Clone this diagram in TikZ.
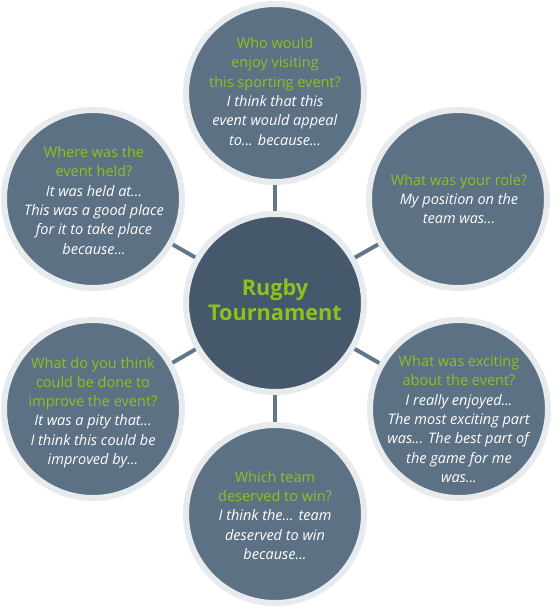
\documentclass[tikz,border=0pt]{standalone}
\usepackage{fontspec}
\setmainfont{Open Sans}
\usepackage{tikz}
\usetikzlibrary{positioning}
\definecolor{slate}{RGB}{93,113,133}
\definecolor{slatedark}{RGB}{70,88,107}
\definecolor{ringgray}{RGB}{232,235,238}
\definecolor{linkgray}{RGB}{98,118,138}
\definecolor{leafgreen}{RGB}{140,194,30}
\tikzset{
  topic/.style={
    circle,
    draw=ringgray,
    line width=6pt,
    fill=slate,
    minimum size=178pt,
    inner sep=0pt
  },
  hub/.style={
    topic,
    fill=slatedark
  },
  link/.style={
    draw=linkgray,
    line width=4pt
  },
  qtext/.style={
    align=center,
    text=white,
    font=\fontsize{14.5}{19.3}\selectfont
  },
  hubtext/.style={
    align=center,
    text=leafgreen,
    font=\fontsize{21.7}{24.5}\selectfont\bfseries
  }
}
\newcommand{\askline}[1]{\textcolor{leafgreen}{#1}}
\newcommand{\ansline}[1]{\textit{#1}}

\begin{document}
\begin{tikzpicture}[x=1pt,y=-1pt]
  \useasboundingbox (0,0) rectangle (552,608);

  % hub and the six question circles
  \node[hub] (hub) at (275,303) {};
  \node[topic] (who) at (275,93) {};
  \node[topic] (role) at (458,199) {};
  \node[topic] (exciting) at (459,409) {};
  \node[topic] (win) at (275,514) {};
  \node[topic] (improve) at (93,409) {};
  \node[topic] (where) at (93,199) {};

  % spokes
  \draw[link] (hub) -- (who);
  \draw[link] (hub) -- (role);
  \draw[link] (hub) -- (exciting);
  \draw[link] (hub) -- (win);
  \draw[link] (hub) -- (improve);
  \draw[link] (hub) -- (where);

  % texts
  \node[hubtext] (hub-t) at (275,300) {Rugby\\Tournament};

  \node[qtext] (who-t) at (275,91.5) {\askline{Who would}\\\askline{enjoy visiting}\\
    \askline{this sporting event?}\\\ansline{I think that this}\\
    \ansline{event would appeal}\\\ansline{to... because...}};

  \node[qtext] (role-t) at (459,199) {\askline{What was your role?}\\
    \ansline{My position on the}\\\ansline{team was...}};

  \node[qtext] (exciting-t) at (459,419) {\askline{What was exciting}\\
    \askline{about the event?}\\\ansline{I really enjoyed...}\\
    \ansline{The most exciting part}\\\ansline{was... The best part of}\\
    \ansline{the game for me}\\\ansline{was...}};

  \node[qtext] (win-t) at (275,515.5) {\askline{Which team}\\
    \askline{deserved to win?}\\\ansline{I think the... team}\\
    \ansline{deserved to win}\\\ansline{because...}};

  \node[qtext] (improve-t) at (93,412.5) {\askline{What do you think}\\
    \askline{could be done to}\\\askline{improve the event?}\\
    \ansline{It was a pity that...}\\\ansline{I think this could be}\\
    \ansline{improved by...}};

  \node[qtext] (where-t) at (94,200.5) {\askline{Where was the}\\
    \askline{event held?}\\\ansline{It was held at...}\\
    \ansline{This was a good place}\\\ansline{for it to take place}\\
    \ansline{because...}};
\end{tikzpicture}
\end{document}
